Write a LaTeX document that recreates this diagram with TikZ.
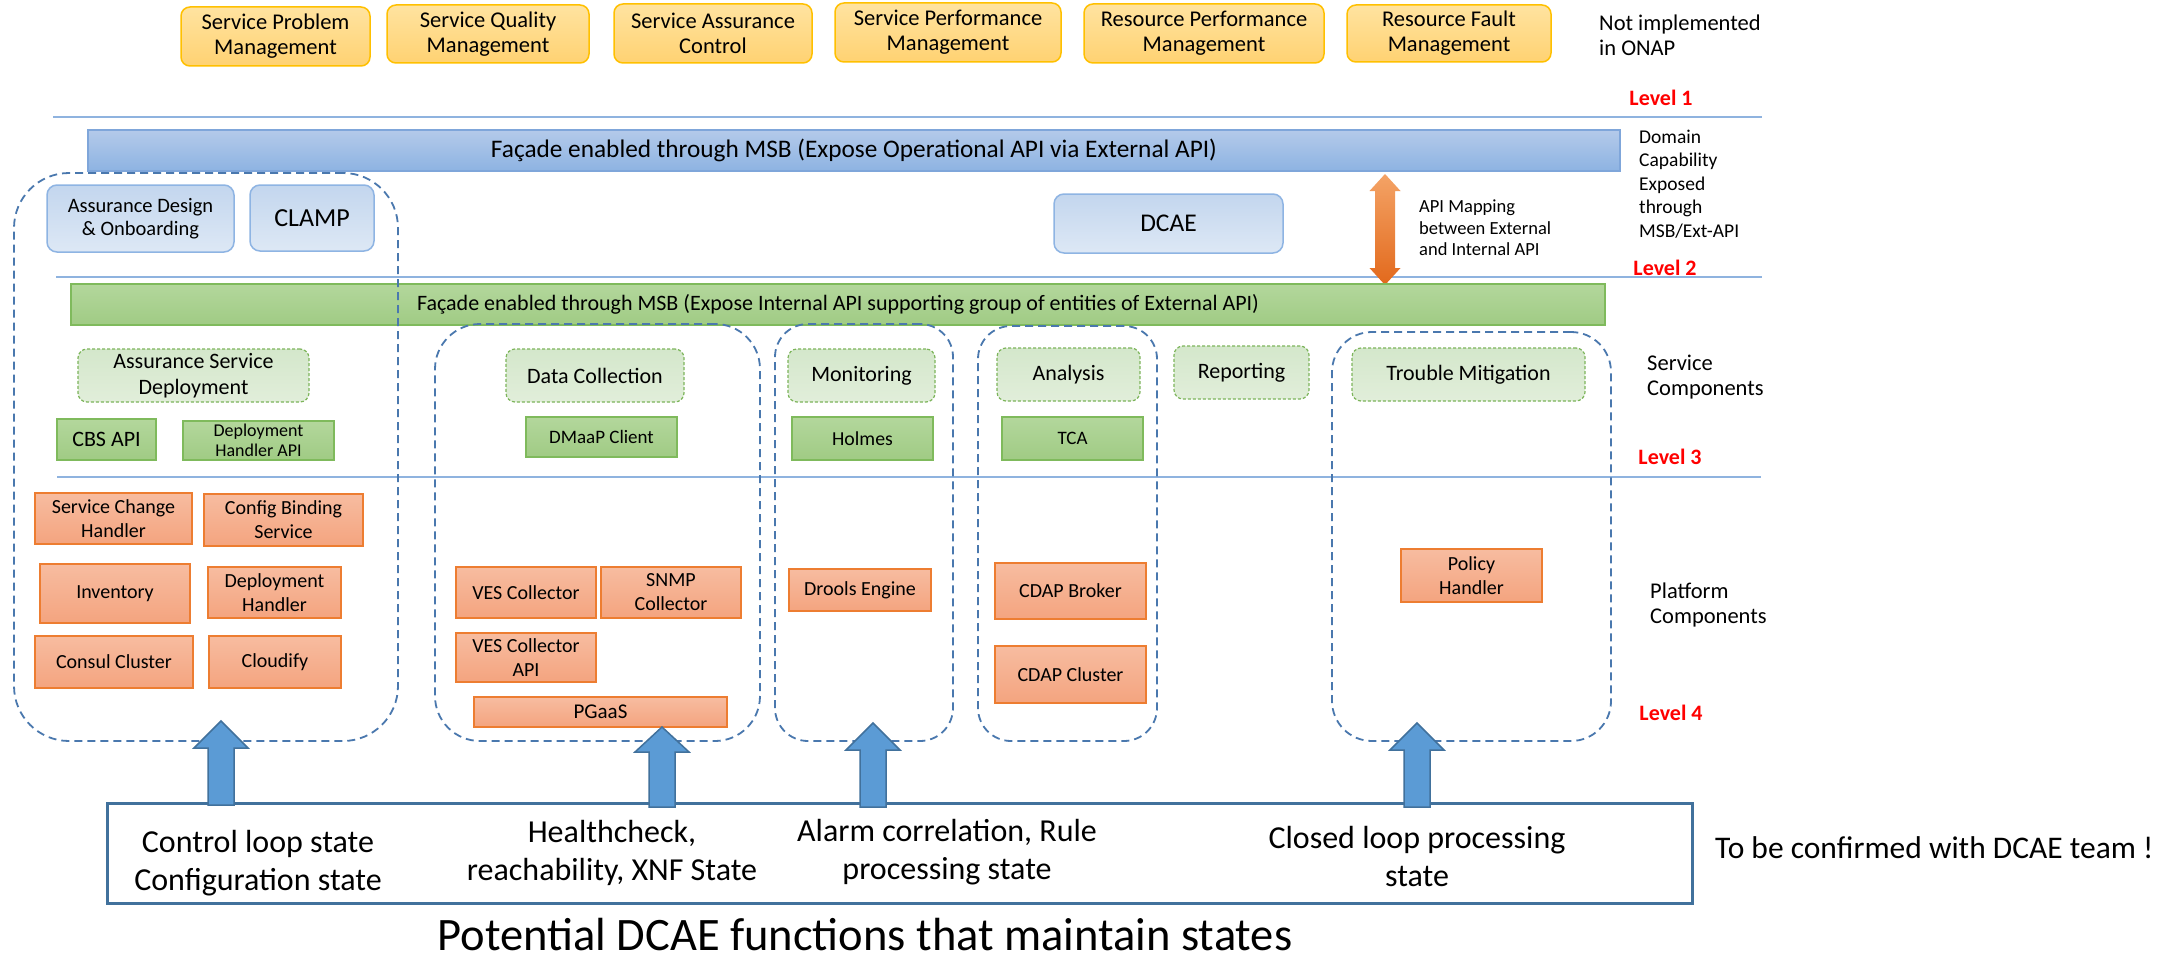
\documentclass[tikz,border=0pt]{standalone}
\usepackage{fontspec}
\setmainfont{Carlito}
\usetikzlibrary{shadings,calc}
\definecolor{ytop}{HTML}{FFE3A0}
\definecolor{ybot}{HTML}{FFD272}
\definecolor{yline}{HTML}{FFC000}
\definecolor{btop}{HTML}{B4CAEA}
\definecolor{bbot}{HTML}{8DB3E2}
\definecolor{bline}{HTML}{7FA6DA}
\definecolor{lbtop}{HTML}{C3D6EE}
\definecolor{lbbot}{HTML}{DDE8F5}
\definecolor{lbline}{HTML}{8EB4E3}
\definecolor{gtop}{HTML}{B3D79C}
\definecolor{gbot}{HTML}{A0CB84}
\definecolor{gline}{HTML}{7FBA5C}
\definecolor{sctop}{HTML}{D4E7CB}
\definecolor{scbot}{HTML}{E1EEDA}
\definecolor{scline}{HTML}{7DB55B}
\definecolor{otop}{HTML}{F7BCA0}
\definecolor{obot}{HTML}{F4A47F}
\definecolor{oline}{HTML}{ED7D31}
\definecolor{regline}{HTML}{4A78AE}
\definecolor{sepline}{HTML}{8FB3DF}
\definecolor{arrfill}{HTML}{5B9BD5}
\definecolor{arrline}{HTML}{41719C}
\definecolor{oatop}{HTML}{F4A366}
\definecolor{oabot}{HTML}{E2691C}
\newcommand\fsz[2]{\fontsize{#1}{#2}\selectfont}
\begin{document}
\begin{tikzpicture}[x=1pt,y=-1pt,
  base/.style={align=center, inner sep=1pt, text=black},
  ybox/.style={base, rounded corners=9, draw=yline, line width=1.5, top color=ytop, bottom color=ybot, font=\fsz{22.5}{25}},
  bbar/.style={base, draw=bline, line width=1.5, top color=btop, bottom color=bbot, font=\fsz{25.3}{28}},
  lbbox/.style={base, rounded corners=10, draw=lbline, line width=1.5, top color=lbtop, bottom color=lbbot},
  gbar/.style={base, draw=gline, line width=1.5, top color=gtop, bottom color=gbot, font=\fsz{22}{24}},
  scbox/.style={base, rounded corners=9, draw=scline, line width=1.2, dash pattern=on 3pt off 2pt, top color=sctop, bottom color=scbot, font=\fsz{22}{26}},
  gbox/.style={base, draw=gline, line width=1.5, top color=gtop, bottom color=gbot, font=\fsz{19}{23}},
  obox/.style={base, draw=oline, line width=1.5, top color=otop, bottom color=obot, font=\fsz{20}{24}},
  region/.style={draw=regline, line width=1.8, dash pattern=on 8pt off 5pt, inner sep=0pt},
  sepl/.style={draw=sepline, line width=1.5},
  lvl/.style={text=red, font=\bfseries\fsz{22}{25}, inner sep=0pt},
  side/.style={base, anchor=west, align=left, inner sep=0pt, font=\fsz{22.5}{25}},
  barrow/.style={fill=arrfill, draw=arrline, line width=1.5, line join=miter},
  bottxt/.style={base, font=\fsz{32}{38}}
]
\fill[white] (0,0) rectangle (2182,963);
\useasboundingbox (0,0) rectangle (2182,963);

% top row
\node[ybox, minimum width=189, minimum height=59] (spm) at (275.5,36.5) {Service Problem\\Management};
\node[ybox, minimum width=202, minimum height=58] (sqm) at (488,34) {Service Quality\\Management};
\node[ybox, minimum width=198, minimum height=59] (sac) at (713,33.5) {Service Assurance\\Control};
\node[ybox, minimum width=226, minimum height=59] (spf) at (948,32.5) {Service Performance\\Management};
\node[ybox, minimum width=240, minimum height=59] (rpm) at (1204,33.5) {Resource Performance\\Management};
\node[ybox, minimum width=204, minimum height=57] (rfm) at (1449,33.5) {Resource Fault\\Management};
\node[side] (notimpl) at (1599,35) {Not implemented\\in ONAP};
\node[lvl] (l1) at (1661,98) {Level 1};

% separators
\coordinate (s1a) at (53,117); \coordinate (s1b) at (1762,117);
\draw[sepl] (s1a) -- (s1b);
\coordinate (s2a) at (56,277); \coordinate (s2b) at (1762,277);
\draw[sepl] (s2a) -- (s2b);
\coordinate (s3a) at (57,477); \coordinate (s3b) at (1761,477);
\draw[sepl] (s3a) -- (s3b);

% level 2 area
\node[bbar, minimum width=1532, minimum height=41] (msb1) at (854,150.5) {Façade enabled through MSB (Expose Operational API via External API)};
\node[side, font=\fsz{19.5}{23.5}] (domain) at (1639,184) {Domain\\Capability\\Exposed\\through\\MSB/Ext-API};
\node[lbbox, minimum width=187, minimum height=67, font=\fsz{20.5}{23}] (ado) at (140.5,218.5) {Assurance Design\\\& Onboarding};
\node[lbbox, minimum width=124, minimum height=66, font=\fsz{26}{28}] (clamp) at (312,218) {CLAMP};
\node[lbbox, minimum width=229, minimum height=59, font=\fsz{25.5}{29}] (dcae) at (1168.5,223.5) {DCAE};
\coordinate (oaT) at (1385,174); \coordinate (oaB) at (1385,285);
\shade[top color=oatop, bottom color=oabot] (oaT) -- ++(15.5,17) -- ++(-5.5,0) -- ($(oaB)+(10,-17)$) -- ++(5.5,0) -- (oaB) -- ++(-15.5,-17) -- ++(5.5,0) -- ($(oaT)+(-10,17)$) -- ++(-5.5,0) -- cycle;
\node[side, font=\fsz{18.5}{21.5}] (apimap) at (1419,228) {API Mapping\\between External\\and Internal API};
\node[lvl] (l2) at (1665,268) {Level 2};

\node[gbar, minimum width=1534, minimum height=41] (msb2) at (838,304.5) {Façade enabled through MSB (Expose Internal API supporting group of entities of External API)};

% regions
\node[region, rounded corners=55, minimum width=384, minimum height=568] (r1) at (206,457) {};
\node[region, rounded corners=45, minimum width=325, minimum height=417] (r2) at (597.5,532.5) {};
\node[region, rounded corners=33, minimum width=178, minimum height=417] (r3) at (864,532.5) {};
\node[region, rounded corners=33, minimum width=179, minimum height=415] (r4) at (1067.5,533.5) {};
\node[region, rounded corners=40, minimum width=279, minimum height=409] (r5) at (1471.5,536.5) {};

% service components
\node[scbox, minimum width=231, minimum height=53] (asd) at (193.5,375.5) {Assurance Service\\Deployment};
\node[scbox, minimum width=178, minimum height=53] (dc) at (595,375.5) {Data Collection};
\node[scbox, minimum width=147, minimum height=53] (mon) at (861.5,375.5) {Monitoring};
\node[scbox, minimum width=143, minimum height=53] (ana) at (1068.5,374.5) {Analysis};
\node[scbox, minimum width=135, minimum height=53] (rep) at (1241.5,372.5) {Reporting};
\node[scbox, minimum width=233, minimum height=53] (tm) at (1468.5,374.5) {Trouble Mitigation};
\node[side] (svcc) at (1647,377.5) {Service\\Components};

\node[gbox, minimum width=99, minimum height=41, font=\fsz{22}{25}] (cbs) at (106.5,439.5) {CBS API};
\node[gbox, minimum width=151, minimum height=39, font=\fsz{18}{20}] (dha) at (258.5,440.5) {Deployment\\Handler API};
\node[gbox, minimum width=151, minimum height=40] (dmaap) at (601.5,437) {DMaaP Client};
\node[gbox, minimum width=141, minimum height=43, font=\fsz{19.8}{22}] (holmes) at (862.5,438.5) {Holmes};
\node[gbox, minimum width=141, minimum height=43] (tca) at (1072.5,438.5) {TCA};
\node[lvl] (l3) at (1670,457) {Level 3};

% platform components
\node[obox, minimum width=157, minimum height=51] (sch) at (113.5,518.5) {Service Change\\Handler};
\node[obox, minimum width=159, minimum height=52] (cfgb) at (283.5,520) {Config Binding\\Service};
\node[obox, minimum width=150, minimum height=59] (inv) at (115,593.5) {Inventory};
\node[obox, minimum width=133, minimum height=51] (dh) at (274.5,592.5) {Deployment\\Handler};
\node[obox, minimum width=158, minimum height=52] (cc) at (114,662) {Consul Cluster};
\node[obox, minimum width=132, minimum height=52] (cld) at (275,662) {Cloudify};
\node[obox, minimum width=140, minimum height=51] (ves) at (526,592.5) {VES Collector};
\node[obox, minimum width=140, minimum height=51] (snmp) at (671,592.5) {SNMP\\Collector};
\node[obox, minimum width=140, minimum height=49] (vesapi) at (526,657.5) {VES Collector\\API};
\node[obox, minimum width=253, minimum height=30, font=\fsz{21}{22}] (pgaas) at (600.5,712) {PGaaS};
\node[obox, minimum width=142, minimum height=42] (drools) at (860,590) {Drools Engine};
\node[obox, minimum width=151, minimum height=56] (cdapb) at (1070.5,591) {CDAP Broker};
\node[obox, minimum width=151, minimum height=57] (cdapc) at (1070.5,674.5) {CDAP Cluster};
\node[obox, minimum width=141, minimum height=53] (ph) at (1471.5,575.5) {Policy\\Handler};
\node[side] (platc) at (1650,605) {Platform\\Components};
\node[lvl] (l4) at (1671,713) {Level 4};

% bottom box
\node[draw=arrline, line width=3, inner sep=0pt, minimum width=1585, minimum height=100] (states) at (899.5,853) {};
\node[bottxt] (t1) at (258,863) {Control loop state\\Configuration state};
\node[bottxt] (t2) at (612,852.5) {Healthcheck,\\reachability, XNF State};
\node[bottxt] (t3) at (947,852.5) {Alarm correlation, Rule\\processing state};
\node[bottxt] (t4) at (1417,856) {Closed loop processing\\state};
\node[side, font=\fsz{31.5}{34}] (confirm) at (1715,848) {To be confirmed with DCAE team !};
\node[inner sep=0pt, anchor=base, text=black, font=\fsz{46.5}{50}] (title) at (865,950) {Potential DCAE functions that maintain states};

% block arrows
\coordinate (a1s) at (221,805); \coordinate (a1t) at (221,721);
\coordinate (a2s) at (662,807); \coordinate (a2t) at (662,727);
\coordinate (a3s) at (873,807); \coordinate (a3t) at (873,723);
\coordinate (a4s) at (1417,807); \coordinate (a4t) at (1417,723);
\draw[barrow] (a1t) -- ++(27,27) -- ++(-14,0) -- ($(a1s)+(13,0)$) -- ++(-26,0) -- ($(a1t)+(-13,27)$) -- ++(-14,0) -- cycle;
\draw[barrow] (a2t) -- ++(27,25) -- ++(-14,0) -- ($(a2s)+(13,0)$) -- ++(-26,0) -- ($(a2t)+(-13,25)$) -- ++(-14,0) -- cycle;
\draw[barrow] (a3t) -- ++(27,27) -- ++(-14,0) -- ($(a3s)+(13,0)$) -- ++(-26,0) -- ($(a3t)+(-13,27)$) -- ++(-14,0) -- cycle;
\draw[barrow] (a4t) -- ++(27,27) -- ++(-14,0) -- ($(a4s)+(13,0)$) -- ++(-26,0) -- ($(a4t)+(-13,27)$) -- ++(-14,0) -- cycle;
\end{tikzpicture}
\end{document}
